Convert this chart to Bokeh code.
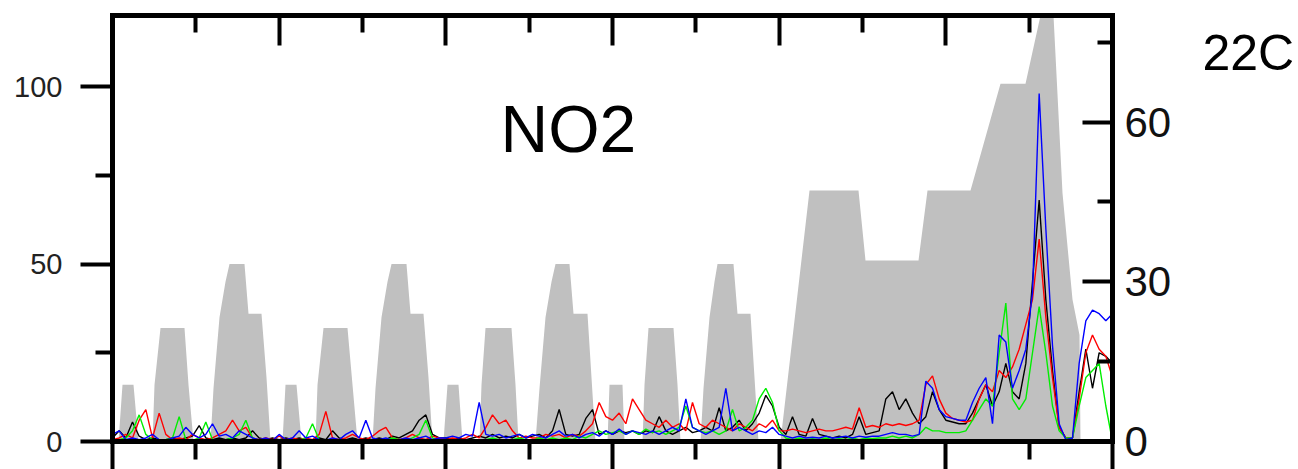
import numpy as np
from bokeh.plotting import figure
from bokeh.models import Range1d, LinearAxis, FixedTicker, Label
from bokeh.embed import file_html
from bokeh.resources import INLINE

# sample times (days), one sample every 0.04 day
days = np.arange(151) * 0.04

# grey background profile (left-axis units)
gray_x = [0, 0.036, 0.06, 0.126, 0.156,
          0.24, 0.252, 0.288, 0.432, 0.456, 0.486,
          0.588, 0.606, 0.642, 0.678, 0.702, 0.792, 0.816, 0.894, 0.924, 0.948,
          1.02, 1.038, 1.104, 1.134,
          1.218, 1.23, 1.266, 1.41, 1.44, 1.47,
          1.56, 1.578, 1.614, 1.65, 1.674, 1.764, 1.788, 1.866, 1.896, 1.92,
          1.986, 2.01, 2.076, 2.1,
          2.202, 2.214, 2.238, 2.394, 2.418, 2.436,
          2.538, 2.562, 2.598, 2.634, 2.658, 2.742, 2.766, 2.85, 2.874, 2.898,
          2.97, 2.982, 3.06, 3.072,
          3.18, 3.192, 3.216, 3.366, 3.39, 3.408,
          3.528, 3.546, 3.582, 3.612, 3.63, 3.726, 3.75, 3.828, 3.852, 3.876,
          4.008, 4.182, 4.476, 4.518, 4.836, 4.89, 5.148, 5.328, 5.478, 5.568,
          5.646, 5.7, 5.76, 5.802, 5.808, 6.0]
gray_y = [0, 0, 16, 16, 0,
          0, 16, 32, 32, 16, 0,
          0, 15, 35, 45, 50, 50, 36, 36, 18, 0,
          0, 16, 16, 0,
          0, 16, 32, 32, 16, 0,
          0, 15, 35, 45, 50, 50, 36, 36, 18, 0,
          0, 16, 16, 0,
          0, 16, 32, 32, 16, 0,
          0, 15, 35, 45, 50, 50, 36, 36, 18, 0,
          0, 16, 16, 0,
          0, 16, 32, 32, 16, 0,
          0, 15, 35, 45, 50, 50, 36, 36, 18, 0,
          0, 70.7, 70.7, 51, 51, 70.7, 70.7, 100.8, 100.8, 120,
          120, 70, 40, 30, 0, 0]

no2_black = [
    1, 3, 1, 5.5, 1.5, 0.5, 1, 0.5, 0.5, 1,
    0.5, 1, 1.5, 4.5, 1, 0.5, 1, 0.5, 1, 0.5,
    1, 3, 1, 0.5, 1, 0.5, 1, 0.5, 1, 0.5,
    0.5, 1, 0.5, 3, 1, 0.5, 1, 0.5, 1, 0.5,
    1, 0.5, 1.5, 1, 2, 3, 6, 7.5, 2, 1,
    1, 0.5, 1, 0.5, 1, 1.5, 1, 2, 1, 1.5,
    1, 2, 1, 1.5, 2, 1, 3, 9, 2, 1.5,
    2, 6.5, 9, 2, 3, 2, 3, 2.5, 3, 2,
    3, 2.5, 7, 3, 2, 3, 4, 2.5, 3, 4,
    3, 9.5, 3, 4, 6, 3, 5, 8, 13, 10,
    4, 2, 7, 2, 1.5, 6.5, 2, 1.5, 1, 1.5,
    1, 2, 7, 2, 2.5, 3, 12, 14, 9, 12,
    8, 5, 7, 14, 9, 6, 5.5, 5, 5, 8,
    12, 16, 10, 14, 22, 14, 12, 22, 45, 68,
    40, 20, 4, 1, 1, 14, 26, 15, 25, 24,
    22]
no2_red = [
    0.5, 1, 2, 1, 6, 9, 1, 8, 2, 0.5,
    1, 0.5, 2, 1, 0.5, 1, 2, 3, 6, 3,
    4, 1, 0.5, 1, 0.5, 1.5, 0.5, 1, 0.5, 1,
    0.5, 2, 8.5, 1, 0.5, 1, 2, 1, 0.5, 1.5,
    3, 4, 1, 0.5, 1, 2, 1, 0.5, 1.5, 1,
    0.5, 1, 0.5, 1, 2, 1, 4, 7.5, 5, 6,
    3, 1, 1.5, 1, 1, 2, 1.5, 2, 1, 2,
    1.5, 3, 5, 11, 7, 6, 8, 5, 12, 9,
    6, 5, 4, 6, 4, 5, 3, 11, 5, 4,
    6, 5, 4, 3, 5, 4, 3, 5, 4, 6,
    3, 3, 3.5, 3, 2.5, 3, 3.5, 3, 3, 3.5,
    4, 3.5, 9.5, 4, 4.5, 4, 5, 4.5, 5, 4.5,
    5, 6, 16, 18.5, 12, 8, 6.5, 6, 5.5, 6,
    12, 16, 14, 20, 18, 21, 26, 33, 40, 57,
    35, 18, 4, 1, 1, 12, 25, 30, 26, 24,
    18]
no2_green = [
    0.3, 0.5, 1, 3, 7.5, 2, 0.5, 0.3, 0.5, 1,
    7, 0.5, 0.3, 1, 5.5, 0.5, 0.3, 0.5, 1, 2,
    6, 1, 0.3, 0.5, 0.3, 0.5, 0.3, 0.5, 0.3, 1,
    5, 0.5, 0.3, 0.5, 0.3, 0.5, 0.3, 0.5, 0.3, 0.5,
    0.3, 0.5, 1, 0.5, 0.3, 1, 2, 6, 1, 0.5,
    0.5, 0.3, 0.5, 0.3, 0.5, 0.3, 0.5, 1, 0.5, 0.3,
    0.5, 1, 0.5, 0.3, 1, 0.5, 1, 0.5, 1, 0.5,
    1.5, 1, 2, 3, 2, 2.5, 3, 2, 3, 2,
    3.5, 2.5, 3, 2, 3, 4, 10, 4, 3, 2.5,
    3, 2, 3, 9, 3, 4, 6, 12, 15, 11,
    3, 1, 0.5, 1, 0.5, 0.8, 0.5, 1, 0.5, 0.8,
    0.5, 1, 0.5, 1, 0.8, 1, 1, 1.5, 1, 1.5,
    1, 2, 4, 3, 3, 2.5, 2.5, 2.5, 3, 6,
    9, 12, 10, 25, 39, 12, 9, 12, 25, 38,
    25, 10, 3, 1, 1, 10, 18, 20, 22, 10,
    0]
no2_blue = [
    2, 3, 0.5, 1, 0.5, 1, 2, 0.5, 0.3, 1,
    1.5, 4, 2, 1, 2, 5, 1.5, 2, 1, 3,
    2, 1, 0.5, 1, 0.3, 2, 0.5, 1, 3, 1,
    1.5, 0.5, 0.3, 1, 0.5, 2, 3, 1, 6, 1,
    0.5, 1, 0.3, 0.5, 1, 0.5, 1, 1.5, 0.5, 1,
    1, 1.5, 1, 2, 1.5, 11, 2, 1.5, 2, 1,
    1.5, 2, 1, 2, 1.5, 1, 2, 3, 1.5, 2,
    1, 2, 2.5, 1.5, 3, 2, 3.5, 2, 3, 2.5,
    2, 3, 2, 3, 4, 3, 12, 4, 3, 2,
    3, 4, 15, 3, 4, 3, 2, 3, 2.5, 4,
    2, 1.5, 1, 1.5, 1, 1.2, 1, 1.5, 1, 1.2,
    1.5, 1, 1.5, 1.2, 1.5, 1.5, 2, 2.5, 2, 2,
    1.5, 2, 17, 15, 9, 7, 6.5, 6, 6, 11,
    15, 18, 5, 30, 28, 15, 20, 26, 42, 98,
    60, 27, 5, 0.5, 1, 22, 34, 37, 36, 34,
    36]

left_ticks = [0, 50, 100]
left_minor = [25, 75]
right_ticks = [0, 30, 60]
right_minor = [15, 45, 75]
x_ticks = [0, 1, 2, 3, 4, 5, 6]
x_minor = [0.5, 1.5, 2.5, 3.5, 4.5, 5.5]
species = "NO2"
panel_tag = "22C"
panel_tag_level = 73   # right-axis units

FONT = "Liberation Sans"

p = figure(width=1298, height=469, x_range=Range1d(0, 6), y_range=Range1d(0, 120),
           output_backend="svg", toolbar_location=None,
           x_axis_location=None, y_axis_location=None,
           min_border_left=112, min_border_right=186,
           min_border_top=15, min_border_bottom=28)
p.extra_y_ranges = {"right": Range1d(0, 80)}
p.outline_line_color = None
p.background_fill_color = "white"
p.border_fill_color = "white"
p.grid.grid_line_color = None

p.varea(x=gray_x, y1=0, y2=gray_y, fill_color="#c0c0c0")
for ys, col in [(no2_black, "black"), (no2_red, "#ff0000"),
                (no2_green, "#00ee00"), (no2_blue, "#0000ff")]:
    p.line(days, ys, line_color=col, line_width=1.4)


def style(ax):
    ax.axis_line_width = 5
    ax.axis_line_color = "black"
    ax.axis_line_cap = "square"
    ax.major_tick_line_width = 4
    ax.minor_tick_line_width = 4
    ax.major_tick_line_color = "black"
    ax.minor_tick_line_color = "black"
    ax.major_label_text_font = FONT


def hide_labels(ax):
    ax.major_label_text_font_size = "0px"
    ax.major_label_text_color = None
    ax.major_label_standoff = 0


left = LinearAxis(ticker=FixedTicker(ticks=left_ticks, minor_ticks=left_minor))
style(left)
left.major_tick_out = 32
left.major_tick_in = 0
left.minor_tick_out = 17
left.minor_tick_in = 0
left.major_label_standoff = 18
left.major_label_text_font_size = "29px"
left.major_label_text_color = "#222222"
p.add_layout(left, "left")

right = LinearAxis(y_range_name="right",
                   ticker=FixedTicker(ticks=right_ticks, minor_ticks=right_minor))
style(right)
right.major_tick_in = 30
right.major_tick_out = 0
right.minor_tick_in = 15
right.minor_tick_out = 0
right.major_label_standoff = 12
right.major_label_text_font_size = "42px"
right.major_label_text_color = "#111111"
p.add_layout(right, "right")

# panel tag ("22C") drawn as the single label of an outer, line-less right axis
tag_axis = LinearAxis(y_range_name="right",
                      ticker=FixedTicker(ticks=[panel_tag_level], minor_ticks=[]),
                      major_label_overrides={panel_tag_level: panel_tag})
tag_axis.axis_line_color = None
tag_axis.major_tick_line_color = None
tag_axis.minor_tick_line_color = None
tag_axis.major_tick_in = 0
tag_axis.major_tick_out = 0
tag_axis.major_label_standoff = 28
tag_axis.major_label_text_font = FONT
tag_axis.major_label_text_font_size = "50px"
tag_axis.major_label_text_color = "black"
p.add_layout(tag_axis, "right")

top = LinearAxis(ticker=FixedTicker(ticks=x_ticks, minor_ticks=x_minor))
style(top)
top.major_tick_in = 30
top.major_tick_out = 0
top.minor_tick_in = 17
top.minor_tick_out = 0
hide_labels(top)
p.add_layout(top, "above")

bottom = LinearAxis(ticker=FixedTicker(ticks=x_ticks, minor_ticks=x_minor))
style(bottom)
bottom.major_tick_in = 0
bottom.major_tick_out = 28
bottom.minor_tick_in = 0
bottom.minor_tick_out = 18
hide_labels(bottom)
p.add_layout(bottom, "below")

p.add_layout(Label(x=2.328, y=88, text=species, text_font=FONT,
                   text_font_size="66px", text_color="black",
                   text_baseline="alphabetic"))

open("out.html", "w").write(file_html(p, INLINE))
